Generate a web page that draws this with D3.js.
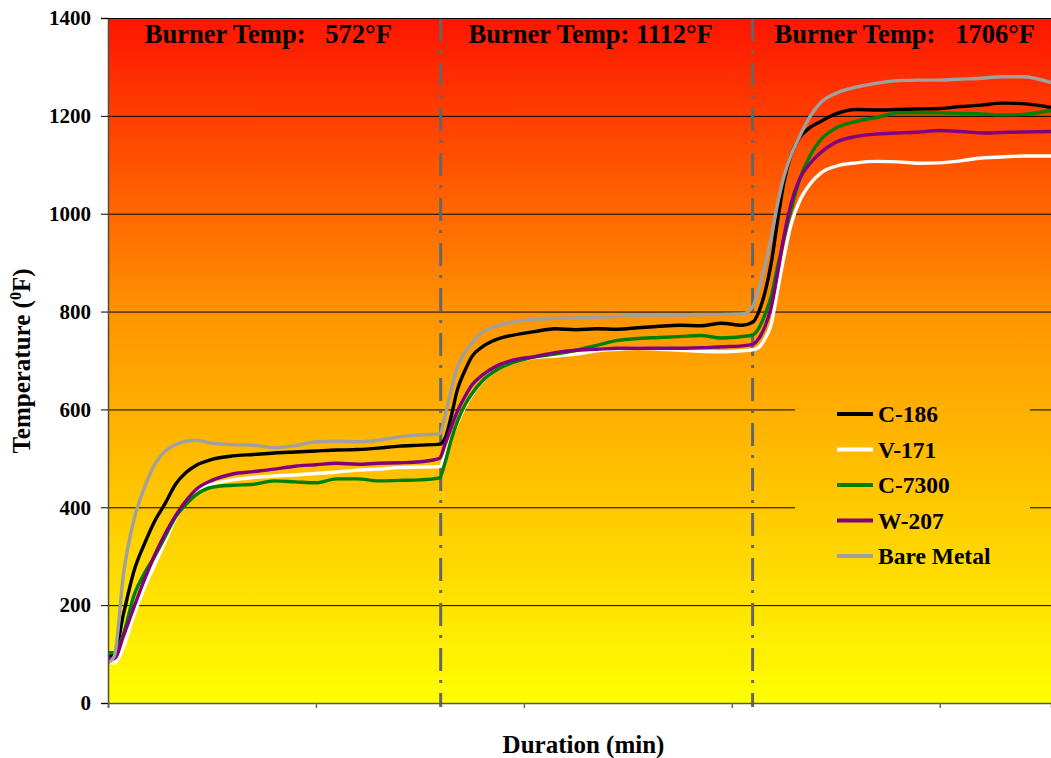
<!DOCTYPE html>
<html>
<head>
<meta charset="utf-8">
<script src="https://cdn.jsdelivr.net/npm/d3@7/dist/d3.min.js"></script>
<style>
	body { margin: 0; background: #ffffff; }
	svg text { font-family: "Liberation Serif", "Times New Roman", serif; font-weight: bold; fill: #000000; }
</style>
</head>
<body>
<svg id="chart" width="1051" height="758"></svg>
<script>
// Sample times (min)
var times = [0, 0.6, 1.5, 2.5, 3.5, 4.5, 5.5, 6.5, 7.5, 8.5, 10, 12, 14, 16, 18, 20, 22, 24, 26, 28, 30, 31.9,
	32.4, 33, 33.6, 34.3, 35, 36, 37.5, 39, 41, 43, 45, 47, 49, 51, 53, 55, 57, 59, 61, 62,
	62.6, 63.2, 63.8, 64.4, 65, 65.7, 66.5, 67.5, 68.5, 70, 72, 74, 76, 78, 80, 82, 84, 86, 88, 90.7];

var c186 = [95, 98, 183, 270, 325, 372, 408, 447, 471, 486, 498, 505, 508, 511, 513, 515, 517, 518, 521, 525, 527, 529,
	540, 585, 640, 678, 708, 728, 744, 752, 759, 765, 763, 765, 764, 767, 770, 772, 771, 776, 772, 778,
	800, 840, 900, 985, 1063, 1120, 1155, 1176, 1188, 1204, 1213, 1212, 1213, 1214, 1215, 1219, 1222, 1226, 1225, 1217];

var v171 = [82, 82, 115, 180, 236, 283, 330, 377, 410, 435, 447, 456, 461, 464, 466, 469, 472, 476, 478, 481, 482, 483,
	505, 540, 572, 604, 630, 657, 682, 696, 706, 709, 713, 720, 723, 725, 723, 721, 719, 718, 720, 722,
	727, 745, 775, 843, 910, 978, 1025, 1060, 1082, 1097, 1104, 1107, 1106, 1103, 1104, 1108, 1114, 1116, 1118, 1118];

var c7300 = [103, 103, 142, 220, 265, 300, 340, 380, 406, 426, 441, 445, 447, 454, 452, 450, 458, 458, 454, 455, 456, 460,
	490, 537, 575, 608, 632, 658, 682, 696, 707, 713, 721, 731, 741, 745, 747, 749, 751, 746, 749, 752,
	766, 795, 832, 892, 948, 1008, 1069, 1118, 1150, 1175, 1189, 1197, 1206, 1207, 1206, 1205, 1204, 1202, 1203, 1211];

var w207 = [91, 91, 138, 196, 252, 303, 346, 383, 413, 437, 455, 468, 473, 478, 484, 487, 490, 488, 490, 491, 493, 500,
	528, 563, 596, 625, 650, 670, 690, 701, 708, 716, 721, 723, 725, 725, 725, 725, 726, 728, 730, 733,
	745, 770, 810, 878, 952, 1020, 1070, 1102, 1124, 1146, 1158, 1163, 1165, 1167, 1170, 1168, 1165, 1166, 1167, 1168];

var bareMetal = [82, 95, 265, 375, 440, 488, 515, 528, 535, 537, 531, 528, 527, 522, 526, 534, 535, 534, 537, 544, 548, 550,
	585, 640, 686, 716, 735, 758, 771, 779, 784, 786, 787, 789, 790, 792, 793, 793, 794, 794, 795, 810,
	845, 895, 953, 1020, 1075, 1120, 1157, 1198, 1226, 1246, 1259, 1267, 1272, 1273, 1273, 1275, 1277, 1280, 1280, 1268];

var seriesNames = ["C-186", "V-171", "C-7300", "W-207", "Bare Metal"];
var seriesValues = [c186, v171, c7300, w207, bareMetal];
var seriesColors = ["#000000", "#ffffff", "#008000", "#800080", "#a0a0a0"];

// Burner phases: change points (min) and labels
var phaseBreaks = [32, 62];
var phaseLabels = ["Burner Temp:   572\u00b0F", "Burner Temp: 1112\u00b0F", "Burner Temp:   1706\u00b0F"];

var yTicks = [0, 200, 400, 600, 800, 1000, 1200, 1400];
var xTicks = [0, 20, 40, 60, 80];

var plotLeft = 108, plotTop = 18, plotRight = 1051, plotBottom = 703;

var svg = d3.select("#chart");

var x = d3.scaleLinear().domain([0, 90.7]).range([plotLeft, plotRight]);
var y = d3.scaleLinear().domain([0, 1400]).range([plotBottom, plotTop]);

// background gradient red -> orange -> yellow
var defs = svg.append("defs");
var grad = defs.append("linearGradient")
	.attr("id", "bg")
	.attr("gradientUnits", "userSpaceOnUse")
	.attr("x1", 0).attr("y1", plotTop)
	.attr("x2", 0).attr("y2", plotBottom);
grad.append("stop").attr("offset", "0%").attr("stop-color", "#ff1400");
grad.append("stop").attr("offset", "45%").attr("stop-color", "#ff9800");
grad.append("stop").attr("offset", "100%").attr("stop-color", "#ffff00");

defs.append("clipPath").attr("id", "plotClip")
	.append("rect")
	.attr("x", plotLeft).attr("y", plotTop)
	.attr("width", plotRight - plotLeft).attr("height", plotBottom - plotTop);

svg.append("rect")
	.attr("x", plotLeft).attr("y", plotTop)
	.attr("width", plotRight - plotLeft).attr("height", plotBottom - plotTop)
	.attr("fill", "url(#bg)");

// gridlines
svg.append("g")
	.selectAll("line")
	.data(yTicks.filter(function(d) { return d > 0; }))
	.enter().append("line")
	.attr("x1", plotLeft).attr("x2", plotRight)
	.attr("y1", function(d) { return y(d) + 0.5; })
	.attr("y2", function(d) { return y(d) + 0.5; })
	.attr("stroke", "#000000")
	.attr("stroke-width", 1);

// legend box hides gridlines behind it
svg.append("rect")
	.attr("x", 795).attr("y", 392)
	.attr("width", 235).attr("height", 184)
	.attr("fill", "url(#bg)");

// phase separators
svg.append("g")
	.selectAll("line")
	.data(phaseBreaks)
	.enter().append("line")
	.attr("x1", function(d) { return x(d); })
	.attr("x2", function(d) { return x(d); })
	.attr("y1", plotTop)
	.attr("y2", plotBottom + 4)
	.attr("stroke", "#666666")
	.attr("stroke-width", 3)
	.attr("stroke-dasharray", "23,9,3,10");

// temperature lines
var line = d3.line()
	.x(function(d, i) { return x(times[i]); })
	.y(function(d) { return y(d); })
	.curve(d3.curveMonotoneX);

svg.append("g")
	.attr("clip-path", "url(#plotClip)")
	.selectAll("path")
	.data(seriesValues)
	.enter().append("path")
	.attr("d", line)
	.attr("fill", "none")
	.attr("stroke", function(d, i) { return seriesColors[i]; })
	.attr("stroke-width", 3.4)
	.attr("stroke-linejoin", "round");

// axes
var yAxis = svg.append("g")
	.attr("transform", "translate(" + plotLeft + ",0)")
	.call(d3.axisLeft(y).tickValues(yTicks).tickFormat(d3.format("d")).tickSize(7).tickPadding(10));
yAxis.select(".domain").attr("stroke", "#5a4a3a").attr("stroke-width", 1.5);
yAxis.selectAll(".tick line").attr("stroke", "#000000");
yAxis.selectAll(".tick text").style("font-size", "21px").attr("font-family", null);

var xAxis = svg.append("g")
	.attr("transform", "translate(0," + plotBottom + ")")
	.call(d3.axisBottom(x).tickValues(xTicks).tickSize(5).tickFormat(""));
xAxis.select(".domain").attr("stroke", "#5a5a30").attr("stroke-width", 1.5);
xAxis.selectAll(".tick line").attr("stroke", "#666666").attr("stroke-width", 1.5);

// top border
svg.append("line")
	.attr("x1", plotLeft).attr("x2", plotRight)
	.attr("y1", plotTop + 0.5).attr("y2", plotTop + 0.5)
	.attr("stroke", "#000000");

// phase labels
var bounds = [0].concat(phaseBreaks).concat([90.7]);
var labelShift = [-6, -6, 3];
svg.append("g")
	.selectAll("text")
	.data(phaseLabels)
	.enter().append("text")
	.attr("x", function(d, i) { return x((bounds[i] + bounds[i + 1]) / 2) + labelShift[i]; })
	.attr("y", 43)
	.attr("text-anchor", "middle")
	.style("font-size", "26.5px")
	.style("white-space", "pre")
	.text(function(d) { return d; });

// axis titles
svg.append("text")
	.attr("x", (plotLeft + plotRight) / 2 + 4)
	.attr("y", 753)
	.attr("text-anchor", "middle")
	.style("font-size", "25px")
	.text("Duration (min)");

var yTitle = svg.append("text")
	.attr("transform", "translate(30,361) rotate(-90)")
	.attr("text-anchor", "middle")
	.style("font-size", "25px");
yTitle.append("tspan").text("Temperature (");
yTitle.append("tspan").attr("dy", -9).style("font-size", "16px").text("0");
yTitle.append("tspan").attr("dy", 9).text("F)");

// legend
var legend = svg.append("g")
	.selectAll("g")
	.data(seriesNames)
	.enter().append("g")
	.attr("transform", function(d, i) { return "translate(837," + (414 + i * 35.5) + ")"; });

legend.append("line")
	.attr("x1", 0).attr("x2", 36)
	.attr("stroke", function(d, i) { return seriesColors[i]; })
	.attr("stroke-width", 4);

legend.append("text")
	.attr("x", 41)
	.attr("y", 8)
	.style("font-size", "23.5px")
	.text(function(d) { return d; });
</script>
</body>
</html>
